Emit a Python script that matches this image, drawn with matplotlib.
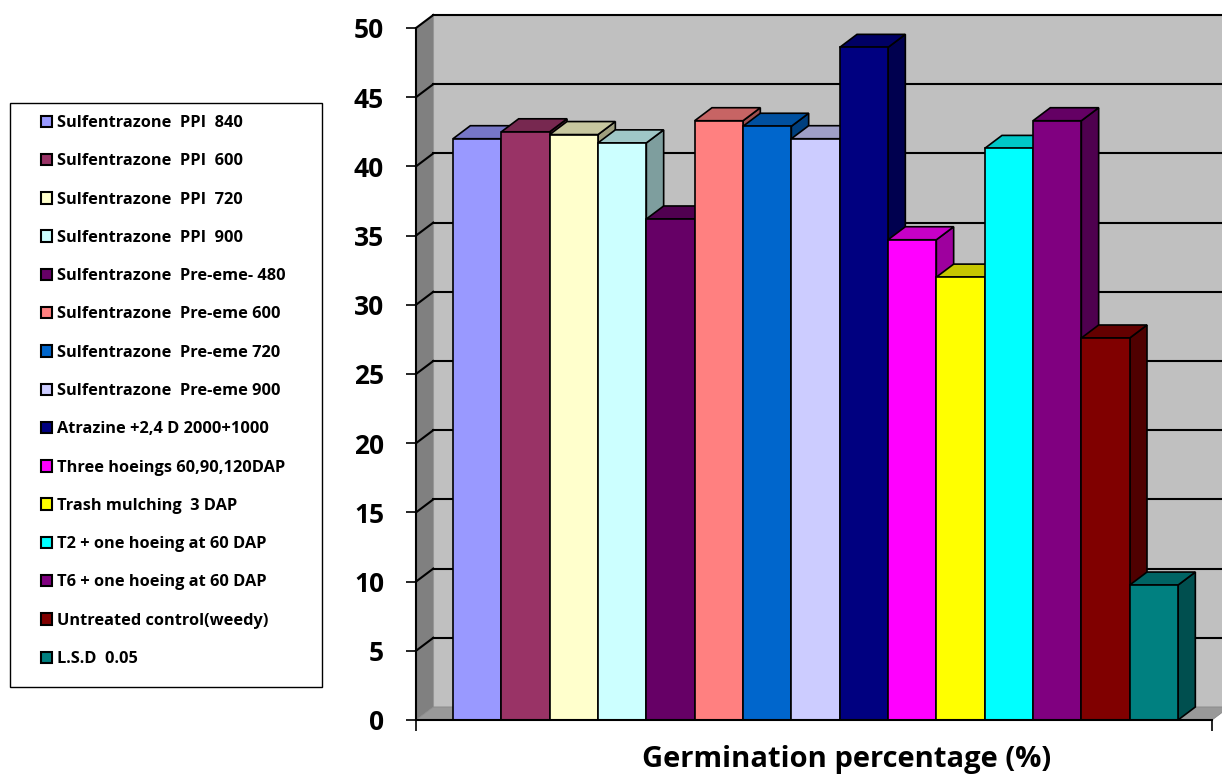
import matplotlib.pyplot as plt
from matplotlib.patches import Polygon, Rectangle
from matplotlib.colors import to_rgb

plt.rcParams['font.family'] = ['Open Sans', 'DejaVu Sans']
plt.rcParams['font.weight'] = 'bold'

# Data
treatments = [
    'Sulfentrazone  PPI  840', 'Sulfentrazone  PPI  600', 'Sulfentrazone  PPI  720',
    'Sulfentrazone  PPI  900', 'Sulfentrazone  Pre-eme- 480', 'Sulfentrazone  Pre-eme 600',
    'Sulfentrazone  Pre-eme 720', 'Sulfentrazone  Pre-eme 900', 'Atrazine +2,4 D 2000+1000',
    'Three hoeings 60,90,120DAP', 'Trash mulching  3 DAP', 'T2 + one hoeing at 60 DAP',
    'T6 + one hoeing at 60 DAP', 'Untreated control(weedy)', 'L.S.D  0.05',
]
germination = [42.0, 42.5, 42.3, 41.7, 36.2, 43.3, 42.9, 42.0, 48.6, 34.7, 32.0, 41.3, 43.3, 27.6, 9.75]
colors = ['#9999FF', '#993366', '#FFFFCC', '#CCFFFF', '#660066', '#FF8080', '#0066CC', '#CCCCFF',
          '#000080', '#FF00FF', '#FFFF00', '#00FFFF', '#800080', '#800000', '#008080']
yticks = [0, 5, 10, 15, 20, 25, 30, 35, 40, 45, 50]

fig = plt.figure(figsize=(12.22, 7.76), dpi=100)
ax = fig.add_axes([416 / 1222, 56 / 776, 796 / 1222, 692 / 776])

x0, x1 = -1.266, 15.203   # front floor ends
ymax = 50
dx, dy = 0.358, 0.94      # 3D depth offset in data units


def shade(c, f):
    r, g, b = to_rgb(c)
    return (r * f, g * f, b * f)


# walls and floor
ax.add_patch(Polygon([(x0 + dx, dy), (x1 + dx, dy), (x1 + dx, ymax + dy), (x0 + dx, ymax + dy)],
                     closed=True, facecolor='#C0C0C0', edgecolor='#A0A0A0', lw=0.8, zorder=0, clip_on=False))
ax.add_patch(Polygon([(x0, 0), (x0 + dx, dy), (x0 + dx, ymax + dy), (x0, ymax)],
                     closed=True, facecolor='#808080', edgecolor='none', zorder=0.5, clip_on=False))
ax.add_patch(Polygon([(x0, 0), (x1, 0), (x1 + dx, dy), (x0 + dx, dy)],
                     closed=True, facecolor='#999999', edgecolor='#888888', lw=0.6, zorder=0.6, clip_on=False))

# gridlines on back wall and side wall
for v in yticks[1:]:
    ax.plot([x0 + dx, x1 + dx], [v + dy, v + dy], color='black', lw=1.5, zorder=1, clip_on=False)
    ax.plot([x0, x0 + dx], [v, v + dy], color='black', lw=1.5, zorder=1, clip_on=False)

# bars: side, top, then front, left to right
w = 1.0
z = 2
for i, (lab, h, c) in enumerate(zip(treatments, germination, colors)):
    l, r = i - w / 2, i + w / 2
    ax.add_patch(Polygon([(r, 0), (r + dx, dy), (r + dx, h + dy), (r, h)], closed=True,
                         facecolor=shade(c, 0.62), edgecolor='black', lw=1.2, zorder=z, clip_on=False))
    ax.add_patch(Polygon([(l, h), (r, h), (r + dx, h + dy), (l + dx, h + dy)], closed=True,
                         facecolor=shade(c, 0.78), edgecolor='black', lw=1.2, zorder=z + 0.1, clip_on=False))
    ax.bar(i, h, width=w, color=c, edgecolor='black', linewidth=1.2, label=lab, zorder=z + 0.2)
    z += 1

ax.set_xlim(x0, x1)
ax.set_ylim(0, ymax)
ax.set_facecolor('none')
for s in ['top', 'right']:
    ax.spines[s].set_visible(False)
ax.spines['left'].set_zorder(50)
ax.spines['bottom'].set_zorder(50)
ax.spines['left'].set_linewidth(1.5)
ax.spines['bottom'].set_linewidth(1.5)

ax.set_yticks(yticks)
ax.set_yticklabels([str(v) for v in yticks], fontsize=19, fontweight='bold')
ax.tick_params(axis='y', length=7, width=1.2, pad=16)
ax.set_xticks([x0, x1])
ax.set_xticklabels([])
ax.tick_params(axis='x', length=8, width=1.2, direction='out')

fig.text(847 / 1222, 1 - 760 / 776, 'Germination percentage (%)', ha='center', va='center',
         fontsize=21, fontweight='bold')

# legend
fig.patches.append(Rectangle((10 / 1222, 1 - 687 / 776), 312 / 1222, 584 / 776,
                             transform=fig.transFigure, facecolor='white', edgecolor='black', lw=1))
leg = fig.legend(loc='upper left', bbox_to_anchor=(41 / 1222, 1 - 115 / 776), frameon=False,
                 prop={'size': 11.8, 'weight': 'bold'}, handlelength=0.7, handleheight=0.7,
                 handletextpad=0.3, labelspacing=1.36, borderaxespad=0, borderpad=0)
for p in leg.get_patches():
    p.set_linewidth(1.5)

fig.savefig('out.png', dpi=100)
